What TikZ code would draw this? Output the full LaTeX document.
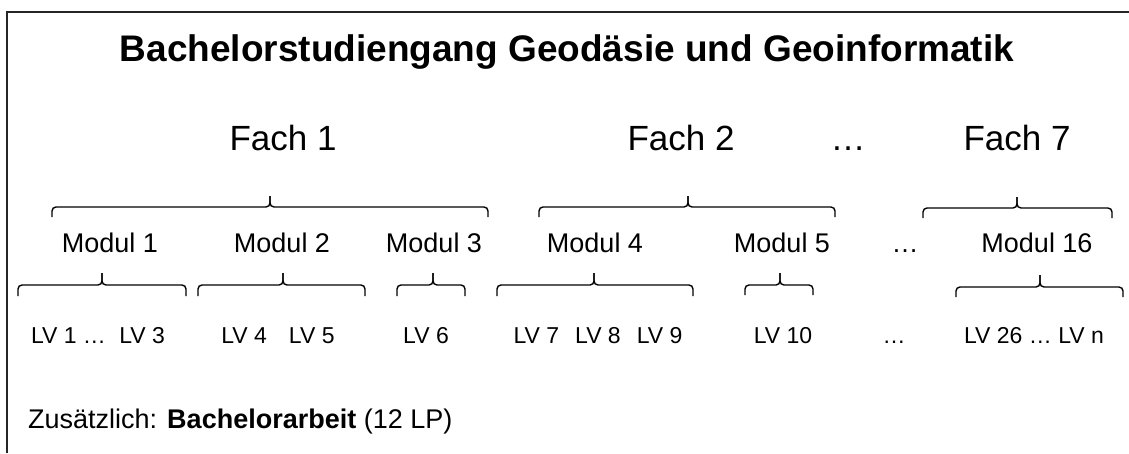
\documentclass[tikz,border=0pt]{standalone}
\usepackage{fontspec}
\setmainfont{Liberation Sans}
\newcommand{\fsz}[1]{\fontsize{#1}{#1}\selectfont}
% \drawbrc{x1}{x2}{xtip}{yline}{yends}{ytip}
\newcommand{\drawbrc}[6]{%
  \draw[brc] (#1,#5) -- (#1,#4) -- (#3,#4) -- (#3,#6);
  \draw[brc] (#2,#5) -- (#2,#4) -- (#3,#4) -- (#3,#6);
}
\begin{document}
\begin{tikzpicture}[x=1pt,y=-1pt,
  brc/.style={line width=1.4pt, rounded corners=4pt, line cap=butt},
  frame/.style={line width=2pt, black!85},
  txt/.style={inner sep=0pt, anchor=base},
  titletxt/.style={txt, font=\fsz{37}\bfseries},
  fachtxt/.style={txt, font=\fsz{35}},
  modtxt/.style={txt, font=\fsz{27}},
  lvtxt/.style={txt, font=\fsz{23}},
  notetxt/.style={inner sep=0pt, anchor=base west, font=\fsz{27}}]
\useasboundingbox (0,0) rectangle (1129,453);
\fill[white] (0,0) rectangle (1129,453);
% frame
\draw[frame] (7,453) -- (7,12) -- (1129,12);
% title
\node[titletxt] (title) at (567,61) {Bachelorstudiengang Geodäsie und Geoinformatik};
% Fach row
\node[fachtxt] (f1) at (283,150) {Fach 1};
\node[fachtxt] (f2) at (681,150) {Fach 2};
\node[fachtxt] (fd) at (848,150) {…};
\node[fachtxt] (f7) at (1017,150) {Fach 7};
% Fach braces
\drawbrc{52}{488}{270}{207}{217}{196}
\drawbrc{539}{835}{688}{207}{217}{196}
\drawbrc{923}{1112}{1017}{208}{218}{197}
% Modul row
\node[modtxt] (m1) at (110,252) {Modul 1};
\node[modtxt] (m2) at (282,252) {Modul 2};
\node[modtxt] (m3) at (434,252) {Modul 3};
\node[modtxt] (m4) at (595,252) {Modul 4};
\node[modtxt] (m5) at (782,252) {Modul 5};
\node[modtxt] (md) at (905,252) {…};
\node[modtxt] (m16) at (1037,252) {Modul 16};
% LV braces
\drawbrc{18}{186}{102}{285}{296}{273}
\drawbrc{198}{365}{283}{285}{296}{273}
\drawbrc{397}{465}{433}{285}{296}{273}
\drawbrc{497}{693}{594}{285}{296}{273}
\drawbrc{745}{813}{780}{285}{295}{273}
\drawbrc{956}{1123}{1040}{287}{297}{275}
% LV row
\node[lvtxt] (l1) at (98,343) {LV 1 … \hspace{7pt}LV 3};
\node[lvtxt] (l2) at (278,343) {LV 4\hspace{22pt}LV 5};
\node[lvtxt] (l3) at (426,343) {LV 6};
\node[lvtxt] (l4) at (598,343) {LV 7\hspace{16pt}LV 8\hspace{16pt}LV 9};
\node[lvtxt] (l5) at (783,343) {LV 10};
\node[lvtxt] (ld) at (894,343) {…};
\node[lvtxt] (l6) at (1034,343) {LV 26 … LV n};
% bottom note
\node[notetxt] (note) at (28,428) {Zusätzlich: \textbf{Bachelorarbeit} (12 LP)};
\end{tikzpicture}
\end{document}
